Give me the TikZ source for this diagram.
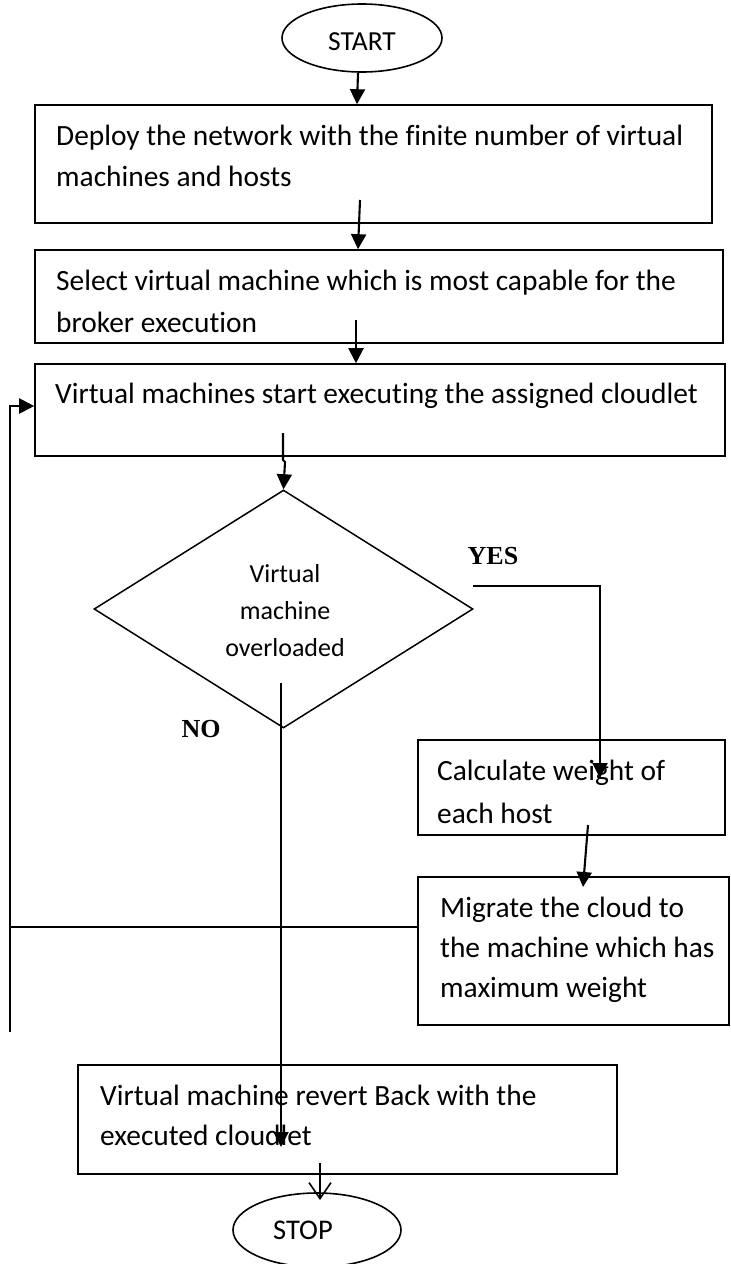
\documentclass[tikz,border=0pt]{standalone}
\usepackage{fontspec}
\setmainfont{Carlito}[Ligatures=NoCommon]
\newfontfamily\tnr{Liberation Serif}
\usetikzlibrary{shapes.geometric,arrows.meta}
\begin{document}
\begin{tikzpicture}[x=1pt,y=-1pt,
  box/.style={draw,line width=1.6pt,rectangle,inner sep=0pt},
  oval/.style={draw,line width=1.6pt,ellipse,inner sep=0pt},
  txt/.style={anchor=base west,inner sep=0pt,font=\fontsize{29.4}{35}\selectfont},
  dtxt/.style={anchor=base,inner sep=0pt,font=\fontsize{26}{31}\selectfont},
  lbl/.style={anchor=base,inner sep=0pt,font=\tnr\bfseries\fontsize{26}{31}\selectfont},
  arr/.style={line width=2.1pt,-{Triangle[length=15pt,width=15pt]}},
  oarr/.style={line width=1.6pt,-{Straight Barb[length=16pt,width=22pt,line width=1.6pt]}},
  conn/.style={line width=2pt}]
\useasboundingbox (0,0) rectangle (731,1264);
% shapes
\node[oval,minimum width=160pt,minimum height=68pt] (start) at (362,38) {};
\node[anchor=center,inner sep=0pt,font=\fontsize{27.5}{32}\selectfont] (startt) at (362,42) {START};
\node[box,minimum width=677pt,minimum height=118pt] (box1) at (373.5,164) {};
\node[box,minimum width=688pt,minimum height=93pt] (box2) at (379,296.5) {};
\node[box,minimum width=690pt,minimum height=92pt] (box3) at (380,410) {};
\node[draw,line width=1.5pt,diamond,inner sep=0pt,minimum width=379pt,minimum height=238pt] (dia) at (283.5,609) {};
\node[box,minimum width=307pt,minimum height=95pt] (calc) at (571.5,787.5) {};
\node[box,minimum width=311pt,minimum height=148pt] (mig) at (573.5,951) {};
\node[box,minimum width=539pt,minimum height=109pt] (fin) at (347.5,1119.5) {};
\node[oval,minimum width=168pt,minimum height=74pt] (stop) at (317,1230) {};
\node[anchor=center,inner sep=0pt,font=\fontsize{28.5}{32}\selectfont] (stopt) at (303,1230) {STOP};
% texts
\node[txt] (t1a) at (56,145) {Deploy the network with the finite number of virtual};
\node[txt] (t1b) at (56,186) {machines and hosts};
\node[txt] (t2a) at (56,290) {Select virtual machine which is most capable for the};
\node[txt] (t2b) at (56,332) {broker execution};
\node[txt] (t3a) at (55,403) {Virtual machines start executing the assigned cloudlet};
\node[dtxt] (tda) at (285,582) {Virtual};
\node[dtxt] (tdb) at (285,619) {machine};
\node[dtxt] (tdc) at (285,656) {overloaded};
\node[lbl] (yes) at (493,564) {YES};
\node[lbl] (no) at (201,737) {NO};
\node[txt] (t4a) at (437,780) {Calculate weight of};
\node[txt] (t4b) at (437,823) {each host};
\node[txt] (t5a) at (440,917) {Migrate the cloud to};
\node[txt] (t5b) at (440,957) {the machine which has};
\node[txt] (t5c) at (440,997) {maximum weight};
\node[txt] (t6a) at (100,1105) {Virtual machine revert Back with the};
\node[txt] (t6b) at (100,1145) {executed cloudlet};
% connector end points
\coordinate (c12) at (360,200);
\coordinate (c23) at (356,320);
\coordinate (c3d) at (283,433);
\coordinate (yesS) at (473,586);
\coordinate (yesC) at (600,586);
\coordinate (yesE) at (600,778);
\coordinate (noS) at (281,683);
\coordinate (noE) at (281,1147);
\coordinate (c45) at (588,825);
\coordinate (c45e) at (583,887);
\coordinate (lpH) at (10,927);
\coordinate (lpB) at (10,1032);
\coordinate (lpT) at (10,406);
\coordinate (c6) at (320,1163);
\coordinate (c6e) at (320,1200);
% connectors
\draw[arr] ([xshift=-4pt]start.south) -- ([xshift=-16.5pt]box1.north);
\draw[arr] (c12) -- ([xshift=-21pt]box2.north);
\draw[arr] (c23) -- ([xshift=-24pt]box3.north);
\draw[arr] (c3d) -- (283,460) -- (285,462) -- (dia.north);
\draw[arr] (yesS) -- (yesC) -- (yesE);
\draw[arr] (noS) -- (noE);
\draw[arr] (c45) -- (c45e);
\draw[conn] ([yshift=24pt]mig.west) -- (lpH);
\draw[arr] (lpB) -- (lpT) -- ([yshift=4pt]box3.west);
\draw[oarr] (c6) -- (c6e);
\end{tikzpicture}
\end{document}
